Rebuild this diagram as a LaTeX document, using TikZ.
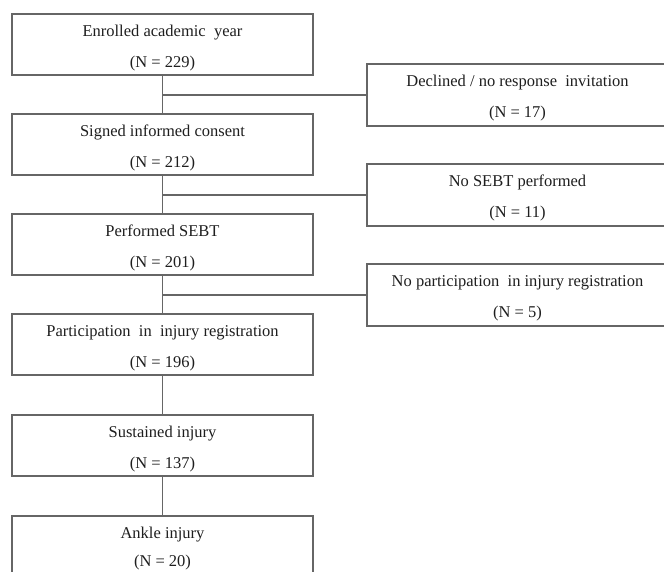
\documentclass[tikz,border=0pt]{standalone}
\usepackage{fontspec}
\setmainfont{Liberation Serif}
\usetikzlibrary{calc}
\definecolor{linecol}{HTML}{666666}
\definecolor{txtcol}{HTML}{1E1E1E}
\tikzset{
  box/.style={draw=linecol, line width=1.5pt, rectangle, minimum width=301pt, minimum height=61pt, inner sep=0pt, anchor=north},
  lbl/.style={font=\fontsize{16.5}{20}\selectfont, text=txtcol, anchor=base, inner sep=0pt},
  conn/.style={draw=linecol, line width=1.5pt}
}
\begin{document}
\begin{tikzpicture}[x=1pt,y=-1pt]
\useasboundingbox (0,0) rectangle (664,571);
\clip (0,0) rectangle (664,571);
% main column
\node[box] (b1) at (162.5,13) {};
\node[box] (b2) at (162.5,113) {};
\node[box] (b3) at (162.5,213) {};
\node[box] (b4) at (162.5,313) {};
\node[box] (b5) at (162.5,414) {};
\node[box] (b6) at (162.5,515) {};
% side boxes
\node[box, minimum height=62pt] (r1) at (517.5,63) {};
\node[box, minimum height=62pt] (r2) at (517.5,163) {};
\node[box, minimum height=62pt] (r3) at (517.5,263) {};
% labels
\foreach \n/\a/\b/\d in {b1/{Enrolled academic\ \ year}/{(N = 229)}/54,
                      b2/{Signed informed consent}/{(N = 212)}/54,
                      b3/{Performed SEBT}/{(N = 201)}/54,
                      b4/{Participation\ \ in\ \ injury registration}/{(N = 196)}/54,
                      b5/{Sustained injury}/{(N = 137)}/54,
                      b6/{Ankle injury}/{(N = 20)}/51.5,
                      r1/{Declined / no response\ \ invitation}/{(N = 17)}/54,
                      r2/{No SEBT performed}/{(N = 11)}/54,
                      r3/{No participation\ \ in injury registration}/{(N = 5)}/54}{
  \node[lbl] (\n t1) at ($(\n.north)+(0,23.5)$) {\a};
  \node[lbl] (\n t2) at ($(\n.north)+(0,\d)$) {\b};
}
% connectors
\draw[conn] (b1.south) -- (b2.north);
\draw[conn] (b2.south) -- (b3.north);
\draw[conn] (b3.south) -- (b4.north);
\draw[conn] (b4.south) -- (b5.north);
\draw[conn] (b5.south) -- (b6.north);
\coordinate (j1) at (b1.south |- r1.west);
\coordinate (j2) at (b2.south |- r2.west);
\coordinate (j3) at (b3.south |- r3.west);
\draw[conn] (j1) -- (r1.west);
\draw[conn] (j2) -- (r2.west);
\draw[conn] (j3) -- (r3.west);
\end{tikzpicture}
\end{document}
